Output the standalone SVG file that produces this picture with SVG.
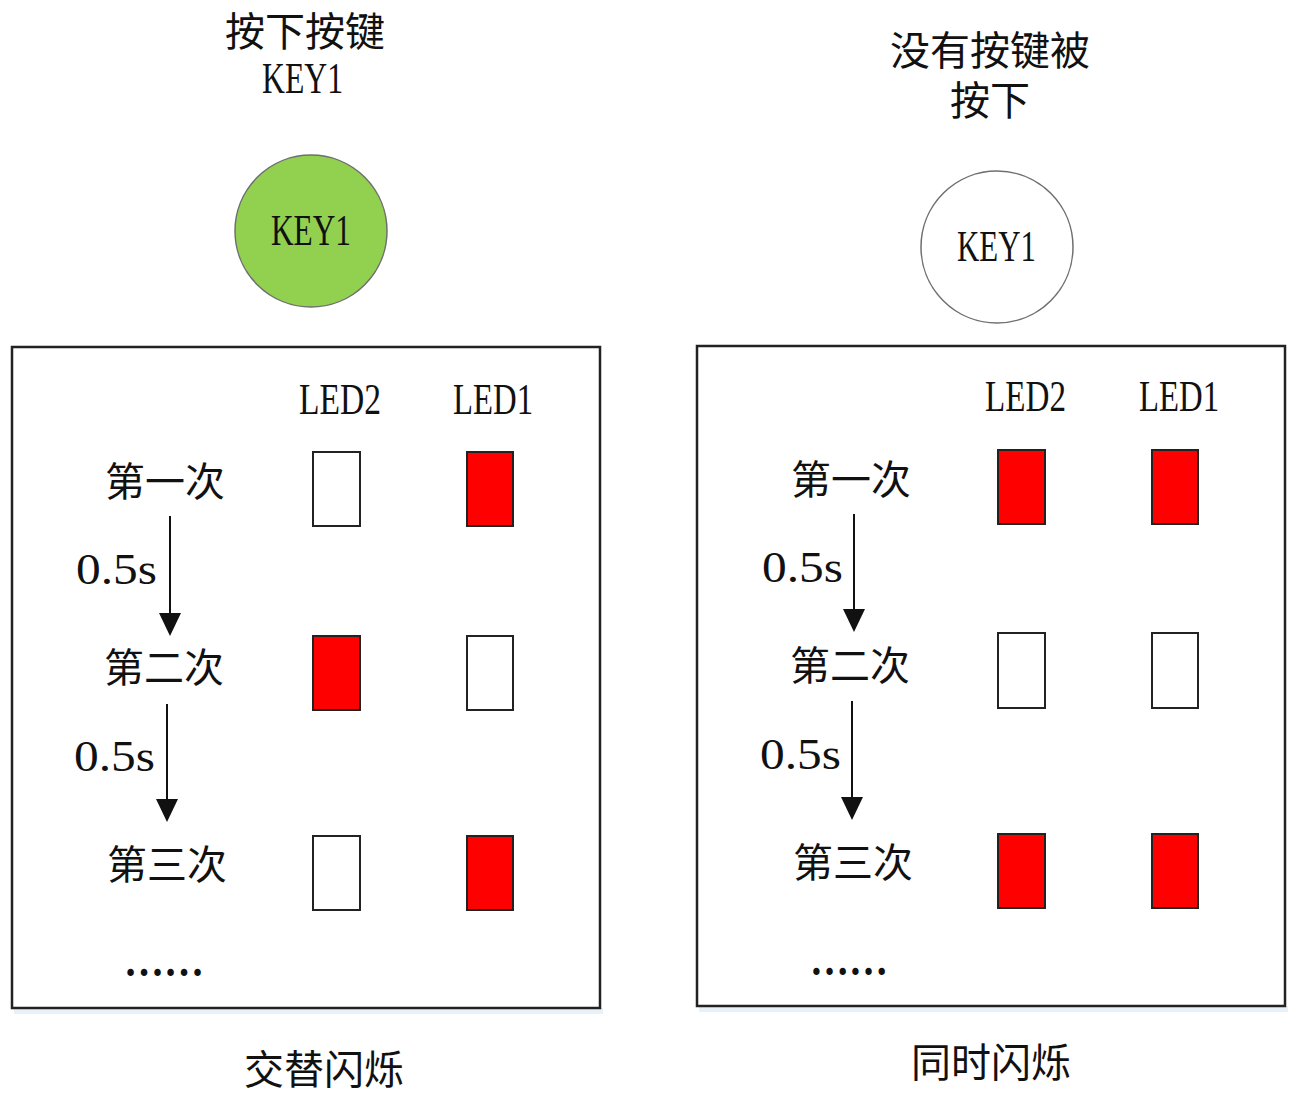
<svg xmlns="http://www.w3.org/2000/svg" width="1292" height="1097" viewBox="0 0 1292 1097">
<style>
.t{font-family:"Liberation Serif","Noto Sans CJK SC",serif;font-size:40px;fill:#111;text-anchor:middle}
.lt{font-family:"Liberation Serif","Noto Sans CJK SC",serif;font-size:44px;fill:#111;text-anchor:start}
.dots{font-family:"Liberation Serif","Noto Sans CJK SC",serif;font-size:44px;font-weight:bold;fill:#111}
.box{fill:#fff;stroke:#222;stroke-width:2.5}
.led{stroke:#222;stroke-width:2}
.on{fill:#ff0000}
.off{fill:#fff}
.arr{stroke:#111;stroke-width:2;fill:none}
.head{fill:#111}
</style>
<rect width="1292" height="1097" fill="#fff"/>
<g id="left-title">
<text class="t" x="305" y="46">按下按键</text>
<text class="lt" x="262" y="93" textLength="81" lengthAdjust="spacingAndGlyphs">KEY1</text>
</g>
<g id="key-pressed">
<circle cx="311" cy="231" r="76" fill="#92d050" stroke="#6f6f6f" stroke-width="1.5"/>
<text class="lt" x="271" y="245" textLength="80" lengthAdjust="spacingAndGlyphs">KEY1</text>
</g>
<g id="right-title">
<text class="t" x="990" y="65">没有按键被</text>
<text class="t" x="990" y="115">按下</text>
</g>
<g id="key-released">
<circle cx="997" cy="247" r="76" fill="#fff" stroke="#6f6f6f" stroke-width="1.5"/>
<text class="lt" x="957" y="261" textLength="79" lengthAdjust="spacingAndGlyphs">KEY1</text>
</g>
<g id="left-panel">
<rect x="14" y="1008" width="589" height="6" fill="#e8f0f8"/>
<rect class="box" x="12" y="347" width="588" height="661"/>
<text class="lt" x="299" y="414" textLength="82" lengthAdjust="spacingAndGlyphs">LED2</text>
<text class="lt" x="453" y="414" textLength="80" lengthAdjust="spacingAndGlyphs">LED1</text>
<text class="t" x="165" y="496">第一次</text>
<text class="t" x="164" y="682">第二次</text>
<text class="t" x="167" y="879">第三次</text>
<text class="lt" x="76" y="584" textLength="81" lengthAdjust="spacingAndGlyphs">0.5s</text>
<text class="lt" x="74" y="771" textLength="81" lengthAdjust="spacingAndGlyphs">0.5s</text>
<text class="dots" x="124" y="976" textLength="80" lengthAdjust="spacingAndGlyphs">……</text>
<rect class="led off" x="313" y="452" width="47" height="74"/>
<rect class="led on" x="467" y="452" width="46" height="74"/>
<rect class="led on" x="313" y="636" width="47" height="74"/>
<rect class="led off" x="467" y="636" width="46" height="74"/>
<rect class="led off" x="313" y="836" width="47" height="74"/>
<rect class="led on" x="467" y="836" width="46" height="74"/>
</g>
<g id="left-caption">
<text class="t" x="324" y="1084">交替闪烁</text>
</g>
<g id="right-panel">
<rect x="699" y="1006" width="589" height="6" fill="#e8f0f8"/>
<rect class="box" x="697" y="346" width="588" height="660"/>
<text class="lt" x="985" y="411" textLength="81" lengthAdjust="spacingAndGlyphs">LED2</text>
<text class="lt" x="1139" y="411" textLength="80" lengthAdjust="spacingAndGlyphs">LED1</text>
<text class="t" x="851" y="494">第一次</text>
<text class="t" x="850" y="680">第二次</text>
<text class="t" x="853" y="877">第三次</text>
<text class="lt" x="762" y="582" textLength="81" lengthAdjust="spacingAndGlyphs">0.5s</text>
<text class="lt" x="760" y="769" textLength="81" lengthAdjust="spacingAndGlyphs">0.5s</text>
<text class="dots" x="810" y="975" textLength="78" lengthAdjust="spacingAndGlyphs">……</text>
<rect class="led on" x="998" y="450" width="47" height="74"/>
<rect class="led on" x="1152" y="450" width="46" height="74"/>
<rect class="led off" x="998" y="633" width="47" height="75"/>
<rect class="led off" x="1152" y="633" width="46" height="75"/>
<rect class="led on" x="998" y="834" width="47" height="74"/>
<rect class="led on" x="1152" y="834" width="46" height="74"/>
</g>
<g id="right-caption">
<text class="t" x="991" y="1077">同时闪烁</text>
</g>
<g id="connectors">
<line class="arr" x1="170" y1="516" x2="170" y2="614"/>
<polygon class="head" points="159,613 181,613 170,636"/>
<line class="arr" x1="167" y1="704" x2="167" y2="800"/>
<polygon class="head" points="156,799 178,799 167,822"/>
<line class="arr" x1="854" y1="514" x2="854" y2="610"/>
<polygon class="head" points="843,609 865,609 854,632"/>
<line class="arr" x1="852" y1="701" x2="852" y2="798"/>
<polygon class="head" points="841,797 863,797 852,820"/>
</g>
</svg>
